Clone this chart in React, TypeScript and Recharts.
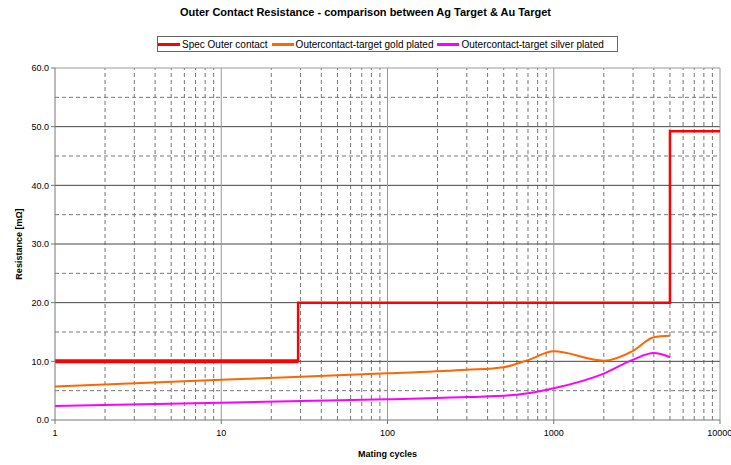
import { LineChart, Line, XAxis, YAxis, ReferenceLine } from "recharts";

const specPoints = [
  { x: 1, y: 10 },
  { x: 29, y: 20 },
  { x: 5000, y: 49.2 },
  { x: 10000, y: 49.2 },
];
const specStart = [
  { x: 1, y: 10 },
  { x: 29, y: 10 },
];
const goldPoints = [
  { x: 1, y: 5.7 },
  { x: 10, y: 6.85 },
  { x: 100, y: 7.95 },
  { x: 300, y: 8.55 },
  { x: 500, y: 9.0 },
  { x: 700, y: 10.2 },
  { x: 1000, y: 11.7 },
  { x: 2000, y: 10.1 },
  { x: 3000, y: 11.8 },
  { x: 4000, y: 14.1 },
  { x: 5000, y: 14.35 },
];
const silverPoints = [
  { x: 1, y: 2.4 },
  { x: 10, y: 2.95 },
  { x: 100, y: 3.55 },
  { x: 300, y: 3.9 },
  { x: 600, y: 4.3 },
  { x: 1000, y: 5.4 },
  { x: 2000, y: 7.9 },
  { x: 3000, y: 10.3 },
  { x: 4000, y: 11.4 },
  { x: 5000, y: 10.7 },
];

const xTicks = [1, 10, 100, 1000, 10000];
const yTicks = [0, 10, 20, 30, 40, 50, 60];
const yMinor = [5, 15, 25, 35, 45, 55];
const xMinor = [
  2, 3, 4, 5, 6, 7, 8, 9,
  20, 30, 40, 50, 60, 70, 80, 90,
  200, 300, 400, 500, 600, 700, 800, 900,
  2000, 3000, 4000, 5000, 6000, 7000, 8000, 9000,
];

const legendItems = [
  { name: "Spec Outer contact", color: "#ff0000" },
  { name: "Outercontact-target gold plated", color: "#ff6600" },
  { name: "Outercontact-target silver plated", color: "#ff00ff" },
];

const font = "'Liberation Sans', Arial, sans-serif";

export default function App() {
  return (
    <div style={{ position: "absolute", left: 0, top: 0, width: 731, height: 465, background: "#fff", fontFamily: font }}>
      <div style={{ position: "absolute", top: 6, left: 0, width: 731, textAlign: "center", fontSize: 11, fontWeight: "bold" }}>
        Outer Contact Resistance - comparison between Ag Target &amp; Au Target
      </div>
      <div
        style={{
          position: "absolute",
          left: 157,
          top: 36,
          width: 459,
          height: 14,
          border: "1px solid #666",
          display: "flex",
          alignItems: "center",
          fontSize: 10,
          whiteSpace: "nowrap",
        }}
      >
        {legendItems.map((it) => (
          <span key={it.name} style={{ display: "flex", alignItems: "center", marginRight: 4 }}>
            <span style={{ display: "inline-block", width: 22, height: 3, background: it.color, marginRight: 2 }} />
            {it.name}
          </span>
        ))}
      </div>
      <LineChart width={731} height={465} margin={{ top: 68, right: 11, bottom: 0, left: 0 }}>
        <XAxis
          dataKey="x"
          type="number"
          scale="log"
          domain={[1, 10000]}
          ticks={xTicks}
          allowDataOverflow
          height={45}
          stroke="#777"
          tickSize={4}
          tickMargin={6}
          tick={{ fill: "#000", fontSize: 9, fontFamily: font }}
          label={{ value: "Mating cycles", position: "insideBottom", offset: 8, fill: "#000", fontSize: 9, fontWeight: "bold", fontFamily: font }}
        />
        <YAxis
          type="number"
          domain={[0, 60]}
          ticks={yTicks}
          width={55}
          stroke="#777"
          tickSize={4}
          tickFormatter={(v: number) => v.toFixed(1)}
          tick={{ fill: "#000", fontSize: 9, fontFamily: font }}
          label={{ value: "Resistance [mΩ]", angle: -90, position: "insideLeft", offset: 19, style: { textAnchor: "middle" }, fill: "#000", fontSize: 9, fontWeight: "bold", fontFamily: font }}
        />
        {yMinor.map((v) => (
          <ReferenceLine key={"ym" + v} y={v} stroke="#777" strokeDasharray="4 3" />
        ))}
        {xMinor.map((v) => (
          <ReferenceLine key={"xm" + v} x={v} stroke="#777" strokeDasharray="4 3" />
        ))}
        {yTicks.slice(1).map((v) => (
          <ReferenceLine key={"y" + v} y={v} stroke={v === 60 ? "#999" : "#444"} />
        ))}
        {xTicks.slice(1).map((v) => (
          <ReferenceLine key={"x" + v} x={v} stroke="#999" />
        ))}
        <Line data={goldPoints} dataKey="y" type="monotone" stroke="#ff6600" strokeWidth={2} dot={false} isAnimationActive={false} />
        <Line data={silverPoints} dataKey="y" type="monotone" stroke="#ff00ff" strokeWidth={2} dot={false} isAnimationActive={false} />
        <Line data={specPoints} dataKey="y" type="stepAfter" stroke="#ff0000" strokeWidth={2.5} dot={false} isAnimationActive={false} />
        <Line data={specStart} dataKey="y" type="linear" stroke="#ff0000" strokeWidth={4} dot={false} legendType="none" isAnimationActive={false} />
      </LineChart>
    </div>
  );
}
